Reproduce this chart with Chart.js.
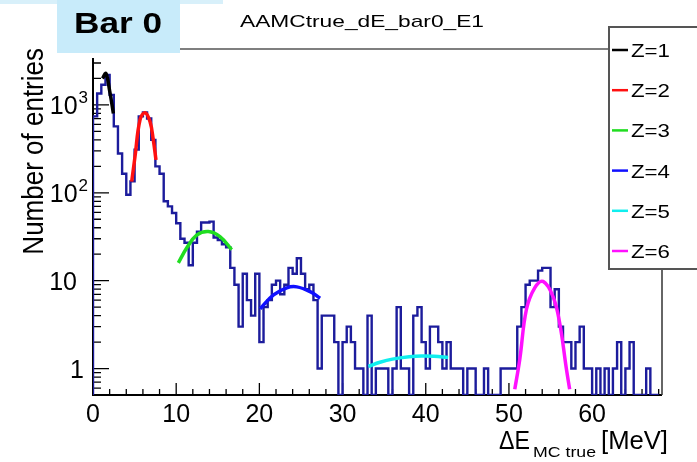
<!DOCTYPE html>
<html>
<head>
<meta charset="utf-8">
<script src="https://cdn.jsdelivr.net/npm/chart.js@4"></script>
<style>
  html, body { margin: 0; padding: 0; background: #fff; }
  canvas { display: block; }
</style>
</head>
<body>
<canvas id="chart" width="697" height="462"></canvas>
<script>
// energy-loss histogram, entries per 0.5 MeV bin starting at 0 MeV
const binWidth = 0.5;
const counts = [
  740, 1350, 1700, 2200, 1300, 570, 280, 165, 95, 135,
  310, 740, 820, 700, 400, 200, 165, 80, 70, 59,
  45, 30, 27, 15, 27, 36, 46, 46, 47, 31,
  29, 26, 24, 14, 9, 3, 12, 6, 4, 12,
  2, 5, 6, 9, 10, 7, 9, 14, 12, 18,
  12, 8, 9, 6, 1, 4, 4, 4, 2, 0,
  2, 3, 2, 1, 1, 0, 4, 0, 1, 1,
  1, 0, 1, 5, 1, 1, 0, 4, 5, 2,
  1, 3, 3, 2, 1, 2, 1, 1, 1, 0,
  1, 1, 0, 0, 1, 0, 0, 0, 1, 1,
  1, 1, 3, 5, 9, 10, 10, 13, 14, 14,
  5, 8, 3, 2, 2, 1, 2, 3, 1, 1,
  0, 1, 0, 1, 0, 1, 2, 0, 1, 2,
  0, 0, 0, 1, 0, 0
];

// gaussian fits per charge: energy [MeV] and fitted entries
const z1E = [1.15, 1.55, 2.0, 2.45];
const z1N = [2000, 2280, 1450, 800];
const z2E = [4.65, 5.05, 5.65, 6.25, 6.85, 7.25, 7.57];
const z2N = [134, 258, 675, 816, 646, 400, 237];
const z3E = [10.26, 11.26, 12.46, 13.86, 15.26, 16.67];
const z3N = [15.9, 23.5, 33, 36.3, 31.8, 22.6];
const z4E = [20.1, 21.7, 23.3, 24.5, 26.1, 27.3];
const z4N = [4.8, 6.9, 8.3, 8.5, 7.5, 6.3];
const z5E = [33.1, 34.5, 36, 38, 39.5, 41, 42.7];
const z5N = [1.06, 1.18, 1.28, 1.36, 1.39, 1.38, 1.34];
const z6E = [50.7, 51.3, 52.1, 53.1, 54.1, 55.3, 56.1, 56.9, 57.3];
const z6N = [0.58, 1.27, 4.7, 8.3, 9.8, 6.6, 3.3, 1.0, 0.58];

const zLabels = ['Z=1', 'Z=2', 'Z=3', 'Z=4', 'Z=5', 'Z=6'];
const zColors = ['#000000', '#ff1010', '#20dd20', '#1010ff', '#10eeee', '#ff10ff'];

const xTickValues = [0, 10, 20, 30, 40, 50, 60];
const yTickValues = [1, 10, 100, 1000];
const yTickLabels = [['1', ''], ['10', ''], ['10', '2'], ['10', '3']];

const xMin = 0, xMax = 68.4;
const yMin = 0.5, yMax = 3420;
const FONT = '"Liberation Sans", Arial, Helvetica, sans-serif';

// histogram outline as a stepped line, empty bins sit on the axis floor
function histPoints() {
  const pts = [{ x: 0, y: yMin }];
  counts.forEach((c, i) => pts.push({ x: i * binWidth, y: Math.max(c, yMin) }));
  pts.push({ x: counts.length * binWidth, y: yMin });
  return pts;
}

function fitData(es, ns) {
  return es.map((e, i) => ({ x: e, y: ns[i] }));
}

const fits = [[z1E, z1N], [z2E, z2N], [z3E, z3N], [z4E, z4N], [z5E, z5N], [z6E, z6N]];

const datasets = fits.map((f, i) => ({
  label: zLabels[i],
  data: fitData(f[0], f[1]),
  borderColor: zColors[i],
  borderWidth: 3.5,
  pointRadius: 0,
  tension: 0.4,
  fill: false
}));
datasets.push({
  label: 'hist',
  data: histPoints(),
  borderColor: '#1c1c9c',
  borderWidth: 2.4,
  pointRadius: 0,
  stepped: true,
  fill: false
});

// draws text stretched to a given width
function fitText(ctx, text, x, y, width, align) {
  const w = ctx.measureText(text).width;
  const sx = width ? width / w : 1;
  ctx.save();
  ctx.translate(x, y);
  ctx.scale(sx, 1);
  ctx.textAlign = align || 'left';
  ctx.fillText(text, 0, 0);
  ctx.restore();
}

const rootStyle = {
  id: 'rootStyle',
  beforeDatasetsDraw(chart) {
    const ctx = chart.ctx;
    const { left, right, top, bottom } = chart.chartArea;
    const xs = chart.scales.x, ys = chart.scales.y;
    ctx.save();

    // frame
    ctx.strokeStyle = '#000';
    ctx.lineWidth = 2;
    ctx.beginPath();
    ctx.moveTo(left, top);
    ctx.lineTo(left, bottom);
    ctx.lineTo(right, bottom);
    ctx.stroke();
    ctx.lineWidth = 1.5;
    ctx.strokeStyle = '#333';
    ctx.beginPath();
    ctx.moveTo(right, top);
    ctx.lineTo(right, bottom);
    ctx.stroke();

    // x ticks, inside the frame
    ctx.strokeStyle = '#000';
    ctx.lineWidth = 1.3;
    ctx.beginPath();
    for (let v = 0; v <= xMax; v += 2) {
      const px = xs.getPixelForValue(v);
      const len = v % 10 === 0 ? 12 : 6;
      ctx.moveTo(px, bottom);
      ctx.lineTo(px, bottom - len);
    }
    // y ticks, log decades
    for (let d = -1; d <= 3; d++) {
      for (let k = 1; k <= 9; k++) {
        const v = k * Math.pow(10, d);
        if (v < yMin || v > yMax) continue;
        const py = ys.getPixelForValue(v);
        const len = k === 1 ? 16 : 8;
        ctx.moveTo(left, py);
        ctx.lineTo(left + len, py);
      }
    }
    ctx.stroke();
    ctx.restore();
  },
  afterDraw(chart) {
    const ctx = chart.ctx;
    const xs = chart.scales.x, ys = chart.scales.y;
    ctx.save();

    // tick labels
    ctx.fillStyle = '#000';
    ctx.textBaseline = 'alphabetic';
    ctx.font = '25px ' + FONT;
    xTickValues.forEach(v => {
      ctx.textAlign = 'center';
      ctx.fillText(String(v), xs.getPixelForValue(v), 422);
    });
    yTickValues.forEach((v, i) => {
      const py = ys.getPixelForValue(v);
      const [base, sup] = yTickLabels[i];
      ctx.textAlign = 'right';
      if (sup) {
        ctx.font = '17px ' + FONT;
        ctx.fillText(sup, 88, py - 2);
        const sw = ctx.measureText(sup).width;
        ctx.font = '25px ' + FONT;
        ctx.fillText(base, 87 - sw, py + 9);
      } else {
        ctx.font = '25px ' + FONT;
        ctx.fillText(base, base.length > 1 ? 77 : 84, py + 9);
      }
    });

    // axis titles
    ctx.font = '26px ' + FONT;
    ctx.save();
    ctx.translate(43, 48);
    ctx.rotate(-Math.PI / 2);
    ctx.scale(1, 1.1);
    ctx.textAlign = 'right';
    ctx.fillText('Number of entries', 0, 0);
    ctx.restore();

    ctx.font = '25px ' + FONT;
    fitText(ctx, '\u0394E', 499, 449, 31, 'left');
    ctx.font = '15px ' + FONT;
    fitText(ctx, 'MC true', 533, 457, 63, 'left');
    ctx.font = '25px ' + FONT;
    fitText(ctx, '[MeV]', 601, 449, 67, 'left');

    // legend box
    ctx.fillStyle = '#fff';
    ctx.fillRect(609, 27, 100, 242);
    ctx.strokeStyle = '#555';
    ctx.lineWidth = 2;
    ctx.strokeRect(609, 27, 100, 242);
    chart.data.datasets.slice(0, 6).forEach((ds, i) => {
      const base = 57 + i * 40.2;
      ctx.strokeStyle = ds.borderColor;
      ctx.lineWidth = 2.5;
      ctx.beginPath();
      ctx.moveTo(612, base - 7);
      ctx.lineTo(628, base - 7);
      ctx.stroke();
      ctx.fillStyle = '#000';
      ctx.font = '19px ' + FONT;
      fitText(ctx, ds.label, 631, base, 39, 'left');
    });

    // title pave
    ctx.fillStyle = '#d8f0fa';
    ctx.fillRect(0, 0, 223, 4);
    ctx.strokeStyle = '#555';
    ctx.lineWidth = 1.5;
    ctx.beginPath();
    ctx.moveTo(180, 49);
    ctx.lineTo(609, 49);
    ctx.stroke();
    ctx.fillStyle = '#000';
    ctx.font = '17px ' + FONT;
    fitText(ctx, 'AAMCtrue_dE_bar0_E1', 240, 27, 244, 'left');

    // bar label
    ctx.fillStyle = '#c8ebfa';
    ctx.fillRect(57, 0, 123, 53);
    ctx.fillStyle = '#000';
    ctx.font = 'bold 29px ' + FONT;
    fitText(ctx, 'Bar 0', 118, 33, 88, 'center');

    ctx.restore();
  }
};

new Chart(document.getElementById('chart').getContext('2d'), {
  type: 'line',
  data: { datasets },
  options: {
    responsive: false,
    animation: false,
    devicePixelRatio: 1,
    events: [],
    layout: { padding: { top: 58, right: 35, left: 0, bottom: 0 } },
    plugins: { legend: { display: false }, tooltip: { enabled: false } },
    scales: {
      x: {
        type: 'linear',
        min: xMin,
        max: xMax,
        grid: { display: false },
        border: { display: false },
        ticks: { display: false },
        afterFit: s => { s.height = 67; }
      },
      y: {
        type: 'logarithmic',
        min: yMin,
        max: yMax,
        grid: { display: false },
        border: { display: false },
        ticks: { display: false },
        afterFit: s => { s.width = 93; }
      }
    }
  },
  plugins: [rootStyle]
});
</script>
</body>
</html>
